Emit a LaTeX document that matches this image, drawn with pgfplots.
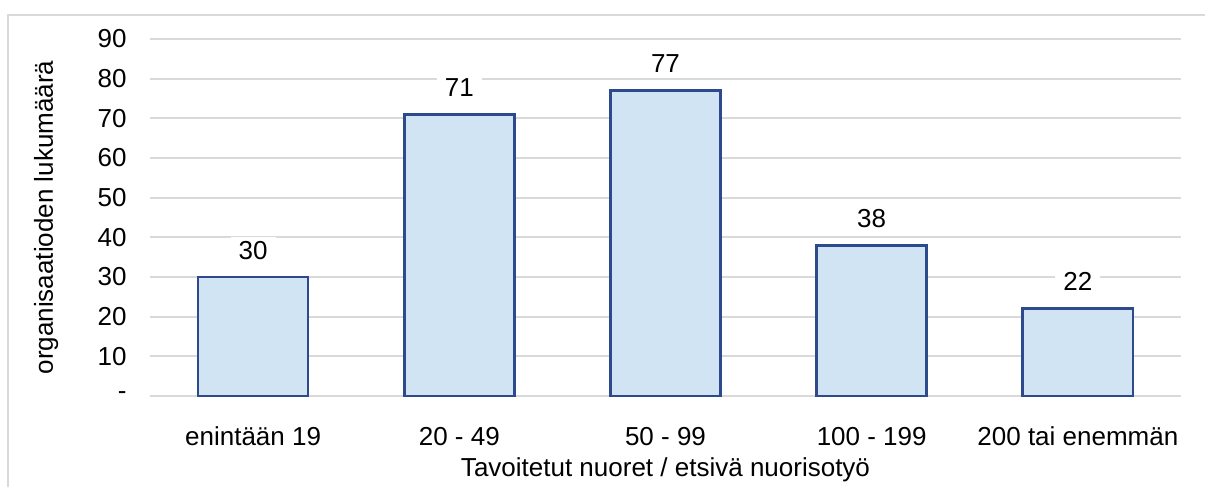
\documentclass[border=0pt]{standalone}
\usepackage{pgfplots}
\pgfplotsset{compat=1.18}
\usepackage{fontspec}
\setmainfont{Liberation Sans}
\definecolor{gridc}{HTML}{D9D9D9}
\definecolor{barfill}{HTML}{D0E4F4}
\definecolor{bardraw}{HTML}{2C4A8C}
\begin{document}
\fontsize{13}{15}\selectfont
\begin{tikzpicture}
\useasboundingbox (-75pt,-45.5pt) rectangle (527.5pt,198pt);
\draw[gridc, line width=0.8pt] (-71pt,-50pt) -- (-71pt,190.5pt) -- (530pt,190.5pt);
\begin{axis}[
  at={(0,0)}, anchor=south west,
  scale only axis,
  width=515.5pt, height=178.5pt,
  xmin=-0.5, xmax=4.5,
  ymin=0, ymax=90,
  ytick={0,10,...,90},
  yticklabels={-,10,20,30,40,50,60,70,80,90},
  xtick=data,
  xticklabels={enintään 19,20 - 49,50 - 99,100 - 199,200 tai enemmän},
  /pgf/number format/assume math mode=true,
  axis line style={draw=none},
  major tick style={draw=none},
  ymajorgrids,
  grid style={gridc, line width=1pt},
  yticklabel style={anchor=east, inner sep=0pt, xshift=-11.5pt, font=\fontsize{13}{15}\selectfont},
  xticklabel style={anchor=base, inner sep=0pt, yshift=-20.5pt, font=\fontsize{13}{15}\selectfont},
  xlabel={Tavoitetut nuoret / etsivä nuorisotyö},
  ylabel={organisaatioden lukumäärä},
  xlabel style={at={(axis description cs:0.5,-0.2269)}, anchor=base, inner sep=0pt, font=\fontsize{13}{15}\selectfont},
  ylabel style={at={(axis description cs:-0.0941,0.5)}, anchor=base, inner sep=0pt, font=\fontsize{13}{15}\selectfont},
  ybar, bar width=55pt,
  nodes near coords,
  nodes near coords style={anchor=base, fill=white, inner xsep=4pt, inner ysep=2pt, yshift=9pt, font=\fontsize{13}{15}\selectfont, /pgf/number format/assume math mode=true},
  clip=false,
]
\addplot[fill=barfill, draw=bardraw, line width=1.4pt, bar shift=0pt] coordinates {(0,30) (1,71) (2,77) (3,38) (4,22)};
\end{axis}
\end{tikzpicture}
\end{document}
